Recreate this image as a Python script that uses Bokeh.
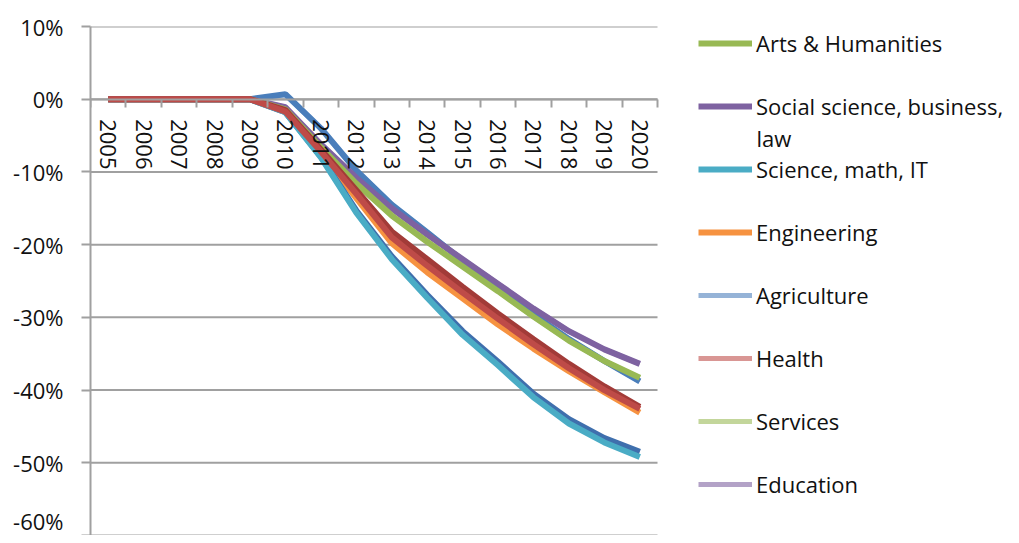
from bokeh.plotting import figure
from bokeh.models import (Range1d, LinearAxis, FixedTicker, PrintfTickFormatter,
                          Legend, LegendItem, Label)
from bokeh.embed import file_html
from bokeh.resources import INLINE

# ---------------- data ----------------
years = list(range(2005, 2021))
y_ticks = [-60, -50, -40, -30, -20, -10, 0, 10]

legend_names = ["Arts & Humanities", "Social science, business,", "Science, math, IT",
                "Engineering", "Agriculture", "Health", "Services", "Education"]
legend_colors = ["#98B954", "#7E62A1", "#4AACC5", "#F69240",
                 "#95B3D7", "#D99694", "#C3D69B", "#B3A2C7"]

arts        = [0, 0, 0, 0, 0, -1.4, -6.6, -11.6, -16.0, -19.6, -23.0, -26.4, -29.9, -33.2, -36.0, -38.3]
social      = [0, 0, 0, 0, 0, -1.1, -6.2, -10.8, -15.0, -18.6, -22.0, -25.4, -28.8, -31.9, -34.4, -36.4]
science     = [0, 0, 0, 0, 0, -1.8, -8.0, -15.6, -22.0, -27.3, -32.4, -36.6, -41.0, -44.6, -47.2, -49.2]
engineering = [0, 0, 0, 0, 0, -1.7, -7.5, -13.6, -19.8, -23.8, -27.4, -31.0, -34.3, -37.4, -40.3, -43.1]
agriculture = [0, 0, 0, 0, 0, 0.6, -4.0, -9.8, -14.5, -18.3, -22.2, -26.0, -29.6, -33.0, -36.0, -38.8]
health      = [0, 0, 0, 0, 0, -1.7, -7.2, -13.0, -19.0, -22.9, -26.6, -30.2, -33.7, -37.0, -40.0, -42.6]
services    = [0, 0, 0, 0, 0, -1.4, -6.6, -11.6, -16.0, -19.6, -23.0, -26.4, -29.9, -33.2, -36.0, -38.3]
education   = [0, 0, 0, 0, 0, -1.1, -6.2, -10.8, -15.0, -18.6, -22.0, -25.4, -28.8, -31.9, -34.4, -36.4]
legend_values = [arts, social, science, engineering, agriculture, health, services, education]

# further series drawn in the plot whose legend entries are not shown
extra_colors = ["#4A7EBB", "#3F6FAD", "#A23B38", "#BE4B48"]
extra_blue    = [0, 0, 0, 0, 0, 0.7, -4.0, -9.8, -14.5, -18.3, -22.2, -26.0, -29.6, -33.0, -36.0, -38.8]
extra_navy    = [0, 0, 0, 0, 0, -1.8, -7.9, -15.3, -21.6, -26.9, -31.9, -36.1, -40.5, -44.0, -46.6, -48.5]
extra_darkred = [0, 0, 0, 0, 0, -1.5, -6.9, -12.5, -18.2, -22.0, -25.8, -29.5, -33.0, -36.4, -39.5, -42.3]
extra_red     = [0, 0, 0, 0, 0, -1.7, -7.2, -13.0, -19.0, -22.9, -26.6, -30.2, -33.7, -37.0, -40.0, -42.6]

FONT = "Open Sans"
GRAY = "#A0A0A0"
TXT = "#111111"

W, H = 1003, 535
LEFT, TOP = 90, 26
PLOT_W = 567                      # width of the chart area proper
x0, x1 = years[0] - 0.5, years[-1] + 0.5
# the frame runs to the right edge so the legend sits inside it
x_end = x0 + (x1 - x0) * (W - LEFT) / PLOT_W

p = figure(width=W, height=H,
           x_range=Range1d(x0, x_end),
           y_range=Range1d(y_ticks[0], y_ticks[-1]),
           x_axis_type=None, output_backend="svg", toolbar_location=None,
           min_border_left=LEFT, min_border_right=0, min_border_top=TOP, min_border_bottom=0)
p.outline_line_color = None
p.background_fill_color = "white"

# y axis
p.yaxis.ticker = FixedTicker(ticks=y_ticks)
p.yaxis.formatter = PrintfTickFormatter(format="%d%%")
p.yaxis.major_label_text_font = FONT
p.yaxis.major_label_text_font_size = "22px"
p.yaxis.major_label_text_color = TXT
p.yaxis.major_tick_out = 9
p.yaxis.major_tick_in = 0
p.yaxis.minor_tick_line_color = None
p.yaxis.axis_line_color = GRAY
p.yaxis.axis_line_width = 2
p.yaxis.major_tick_line_color = GRAY
p.yaxis.major_tick_line_width = 2
p.yaxis.major_label_standoff = 18
p.ygrid.visible = False

# horizontal gridlines limited to the chart area
p.segment(x0=[x0] * len(y_ticks), x1=[x1] * len(y_ticks), y0=y_ticks, y1=y_ticks,
          line_color=GRAY, line_width=2)

# x axis drawn at y = 0: labels at year centres, ticks between years
label_axis = LinearAxis(ticker=FixedTicker(ticks=years), fixed_location=0, bounds=(x0, x1),
                        major_label_orientation="vertical",
                        major_tick_line_color=None, major_tick_out=0, major_tick_in=0,
                        minor_tick_line_color=None,
                        axis_line_color=GRAY, axis_line_width=2,
                        major_label_standoff=20,
                        major_label_text_font=FONT, major_label_text_font_size="22px",
                        major_label_text_color=TXT)
tick_axis = LinearAxis(ticker=FixedTicker(ticks=[y - 0.5 for y in years] + [x1]),
                       fixed_location=0, bounds=(x0, x1),
                       major_tick_line_color=GRAY, major_tick_line_width=2,
                       major_tick_out=8, major_tick_in=0,
                       minor_tick_line_color=None, axis_line_color=None,
                       major_label_text_color=None, major_label_text_font_size="1px")
p.add_layout(tick_axis, "below")
p.add_layout(label_axis, "below")

# lines: lighter legend series first (underneath), the rest on top
renderers = {}
for name, vals, col in zip(legend_names[4:], legend_values[4:], legend_colors[4:]):
    renderers[name] = p.line(years, vals, line_color=col, line_width=5)
r_blue = p.line(years, extra_blue, line_color=extra_colors[0], line_width=6)
renderers[legend_names[1]] = p.line(years, social, line_color=legend_colors[1], line_width=6)
renderers[legend_names[0]] = p.line(years, arts, line_color=legend_colors[0], line_width=6)
renderers[legend_names[3]] = p.line(years, engineering, line_color=legend_colors[3], line_width=6)
r_navy = p.line(years, extra_navy, line_color=extra_colors[1], line_width=6)
renderers[legend_names[2]] = p.line(years, science, line_color=legend_colors[2], line_width=6)
r_dr = p.line(years, extra_darkred, line_color=extra_colors[2], line_width=6)
r_red = p.line(years, extra_red, line_color=extra_colors[3], line_width=6)

items = [LegendItem(label=n, renderers=[renderers[n]]) for n in legend_names]
legend = Legend(items=items, location=(608, 34), margin=0, padding=0,
                spacing=29, label_height=34, glyph_height=34, glyph_width=54,
                label_standoff=4, label_text_font=FONT, label_text_font_size="22px",
                label_text_color=TXT, background_fill_alpha=0, border_line_color=None)
p.add_layout(legend, "center")

law = Label(x=666, y=398, x_units="screen", y_units="screen", text="law",
            text_font=FONT, text_font_size="22px", text_color=TXT, text_baseline="middle")
p.add_layout(law)

open("out.html", "w").write(file_html(p, INLINE))
